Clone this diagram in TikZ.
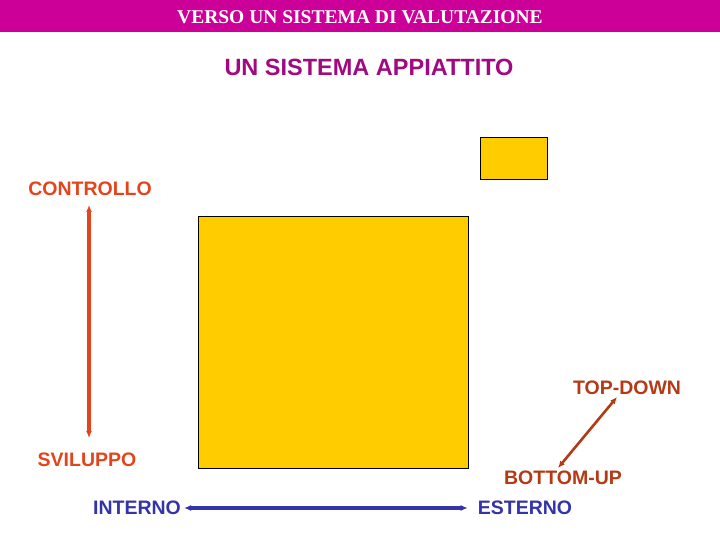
\documentclass[tikz,border=0pt]{standalone}
\usepackage{fontspec}
\setmainfont{Liberation Serif}
\setsansfont{Liberation Sans}
\usetikzlibrary{arrows.meta}
\definecolor{barmag}{HTML}{CC0099}
\definecolor{submag}{HTML}{A00A80}
\definecolor{ctrlred}{HTML}{E4441C}
\definecolor{tdred}{HTML}{B43A16}
\definecolor{estblue}{HTML}{3434A8}
\definecolor{boxyel}{HTML}{FFCC00}

\begin{document}
\begin{tikzpicture}[x=1pt,y=-1pt,
    lab/.style={font=\sffamily\bfseries\fontsize{19.5}{22}\selectfont, inner sep=3pt},
    ybox/.style={draw=black, fill=boxyel, line width=1pt},
    harrow/.style={{Latex[length=7pt,width=6pt]}-{Latex[length=7pt,width=6pt]}, line width=3.2pt}]
    \useasboundingbox (0,0) rectangle (720,540);
    % barra del titolo
    \fill[barmag] (0,0) rectangle (720,32);
    \node[text=white, font=\bfseries\fontsize{19.5}{21}\selectfont] (titolo) at (360,17) {VERSO UN SISTEMA DI VALUTAZIONE};
    \node[text=submag, font=\sffamily\bfseries\fontsize{23.5}{26}\selectfont] (sotto) at (369,67) {UN SISTEMA APPIATTITO};
    % rettangoli
    \draw[ybox] (480,138) rectangle (547,180);
    \draw[ybox] (198,217) rectangle (468,468);
    % etichette
    \node[lab, text=ctrlred] (ctrl) at (90,189) {CONTROLLO};
    \node[lab, text=ctrlred] (svil) at (87,460) {SVILUPPO};
    \node[lab, text=estblue] (intern) at (137,508) {INTERNO};
    \node[lab, text=estblue] (estern) at (525,508) {ESTERNO};
    \node[lab, text=tdred] (td) at (627,388) {TOP-DOWN};
    \node[lab, text=tdred] (bu) at (563,478) {BOTTOM-UP};
    % frecce
    \coordinate (vtop) at (89,205);
    \coordinate (vbot) at (89,438);
    \draw[harrow, ctrlred] (vtop) -- (vbot);
    \draw[harrow, estblue] (intern.east) -- ([xshift=-7pt]estern.west);
    \coordinate (dtop) at (617,397);
    \coordinate (dbot) at (558,468);
    \draw[harrow, tdred, line width=2.6pt] (dtop) -- (dbot);
\end{tikzpicture}
\end{document}
